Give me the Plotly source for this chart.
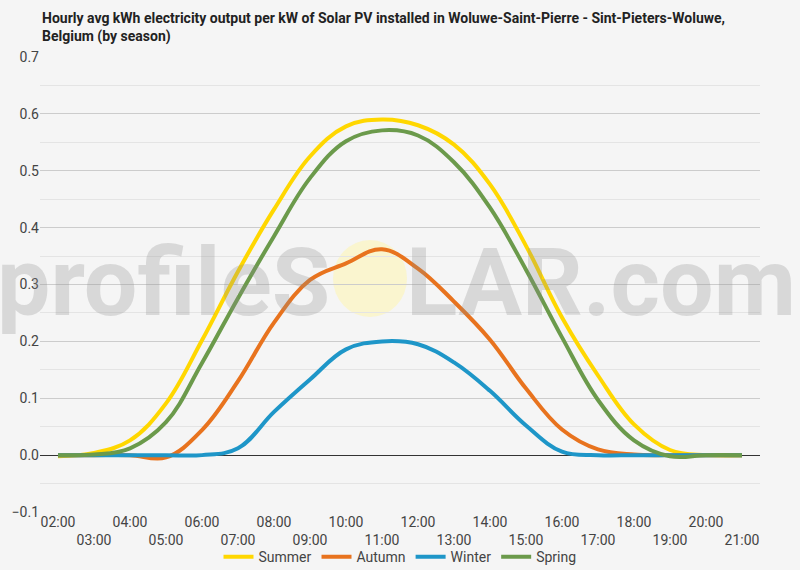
import plotly.graph_objects as go

hours = list(range(2, 22))
hour_labels = [f"{h:02d}:00" for h in hours]

summer = [-0.002, 0.004, 0.026, 0.091, 0.202, 0.323, 0.432, 0.525, 0.578, 0.590,
          0.580, 0.546, 0.476, 0.368, 0.242, 0.140, 0.054, 0.009, 0.0, 0.0]
autumn = [0.0, 0.0, 0.0, -0.004, 0.044, 0.130, 0.233, 0.308, 0.337, 0.362,
          0.328, 0.270, 0.203, 0.117, 0.045, 0.010, 0.001, 0.0, 0.0, 0.0]
winter = [0.0, 0.0, 0.0, 0.0, 0.0, 0.012, 0.076, 0.133, 0.186, 0.200,
          0.195, 0.163, 0.113, 0.052, 0.006, 0.0, 0.0, 0.0, 0.0, 0.0]
spring = [0.0, 0.001, 0.012, 0.058, 0.162, 0.276, 0.385, 0.487, 0.552, 0.571,
          0.562, 0.515, 0.435, 0.326, 0.207, 0.097, 0.026, -0.002, 0.0, 0.0]

series = [("Summer", summer, "#FFD700"),
          ("Autumn", autumn, "#E8731E"),
          ("Winter", winter, "#1E96C8"),
          ("Spring", spring, "#6B9A4B")]

fig = go.Figure()
for name, vals, col in series:
    fig.add_trace(go.Scatter(x=hours, y=vals, name=name, mode="lines",
                             line=dict(color=col, width=4, shape="spline", smoothing=1.1),
                             hoverinfo="skip"))

ticktext = [lab if i % 2 == 0 else "<br>" + lab for i, lab in enumerate(hour_labels)]

fig.update_layout(
    width=800, height=570,
    margin=dict(l=40, r=40, t=57, b=58, autoexpand=False),
    paper_bgcolor="#f5f5f5", plot_bgcolor="#f5f5f5",
    font=dict(family="Roboto", size=14, color="#444444"),
    showlegend=True,
    legend=dict(orientation="h", x=0.5, xanchor="center", y=-0.099, yanchor="middle",
                font=dict(size=14, color="#444444"), bgcolor="rgba(0,0,0,0)",
                itemwidth=30),
    xaxis=dict(range=[1.5, 21.5], tickmode="array", tickvals=hours, ticktext=ticktext,
               tickangle=0, automargin=False,
               showgrid=False, zeroline=False, showline=False, ticks="",
               tickfont=dict(size=14, color="#444444"), fixedrange=True),
    yaxis=dict(range=[-0.1, 0.7], dtick=0.1, tickformat=".1f", automargin=False,
               gridcolor="#cccccc", gridwidth=1,
               minor=dict(dtick=0.05, showgrid=True, gridcolor="#e4e4e4"),
               zeroline=True, zerolinecolor="#333333", zerolinewidth=1,
               showline=False, ticks="", tickfont=dict(size=14, color="#444444"),
               fixedrange=True),
)

# title as annotation
fig.add_annotation(text="<b>Hourly avg kWh electricity output per kW of Solar PV installed in Woluwe-Saint-Pierre - Sint-Pieters-Woluwe,<br>Belgium (by season)</b>",
                   xref="paper", yref="paper", x=0, xanchor="left",
                   y=(512-27)/455, yanchor="middle", align="left", showarrow=False,
                   font=dict(family="Roboto", size=14, color="#222222"))

# watermark sun circle
fig.add_shape(type="circle", xref="paper", yref="paper",
              x0=(333-40)/720, x1=(407-40)/720,
              y0=(512-317)/455, y1=(512-240)/455,
              fillcolor="rgba(255,246,170,0.5)", line=dict(width=0), layer="below")

# watermark text
fig.add_annotation(text="<b>profileS</b>", xref="paper", yref="paper",
                   x=(332-40)/720, xanchor="right", y=(512-282)/455, yanchor="middle",
                   showarrow=False,
                   font=dict(family="Roboto", size=95, color="rgba(140,140,140,0.27)"))
fig.add_annotation(text="<b>LAR.com</b>", xref="paper", yref="paper",
                   x=(404-40)/720, xanchor="left", y=(512-282)/455, yanchor="middle",
                   showarrow=False,
                   font=dict(family="Roboto", size=95, color="rgba(140,140,140,0.27)"))

fig.write_html("out.html", config={"displayModeBar": False},
               post_script="document.body.style.margin='0';document.body.style.background='#f5f5f5';")
